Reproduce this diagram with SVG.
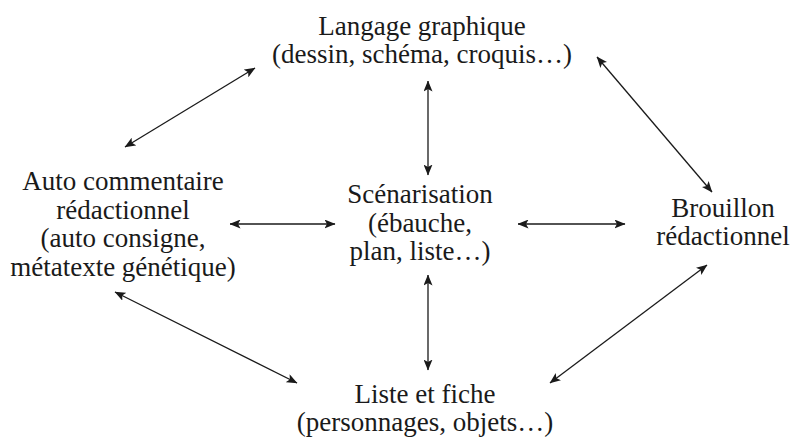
<svg xmlns="http://www.w3.org/2000/svg" width="798" height="437" viewBox="0 0 798 437">
<style>
text{font-family:"Liberation Serif","Times New Roman",serif;font-size:27px;fill:#1a1a1a;text-anchor:middle}
.c{stroke:#1a1a1a;stroke-width:1.3;fill:none;marker-start:url(#ah);marker-end:url(#ah)}
</style>
<defs>
<marker id="ah" viewBox="0 0 11 9" refX="10.5" refY="4.5" markerWidth="11" markerHeight="9" markerUnits="userSpaceOnUse" orient="auto-start-reverse">
<path d="M0,0 L11,4.5 L0,9 L2.5,4.5 z" fill="#1a1a1a"/>
</marker>
</defs>
<rect width="798" height="437" fill="#ffffff"/>
<g id="connectors">
<line class="c" x1="125" y1="147" x2="255" y2="68"/>
<line class="c" x1="428" y1="81" x2="428" y2="175"/>
<line class="c" x1="597" y1="57" x2="712" y2="192"/>
<line class="c" x1="230" y1="224" x2="335" y2="224"/>
<line class="c" x1="518" y1="224" x2="625" y2="224"/>
<line class="c" x1="428" y1="275" x2="428" y2="370"/>
<line class="c" x1="115" y1="292" x2="297" y2="383"/>
<line class="c" x1="707" y1="265" x2="550" y2="383"/>
</g>
<g id="langage">
<text x="422" y="35">Langage graphique</text>
<text x="422" y="63">(dessin, schéma, croquis…)</text>
</g>
<g id="auto">
<text x="123" y="190">Auto commentaire</text>
<text x="123" y="218.5">rédactionnel</text>
<text x="123" y="247">(auto consigne,</text>
<text x="123" y="275.5">métatexte génétique)</text>
</g>
<g id="scenarisation">
<text x="420" y="203">Scénarisation</text>
<text x="420" y="231.5">(ébauche,</text>
<text x="420" y="260">plan, liste…)</text>
</g>
<g id="brouillon">
<text x="723" y="217">Brouillon</text>
<text x="723" y="245">rédactionnel</text>
</g>
<g id="liste">
<text x="425" y="403">Liste et fiche</text>
<text x="425" y="431">(personnages, objets…)</text>
</g>
</svg>
